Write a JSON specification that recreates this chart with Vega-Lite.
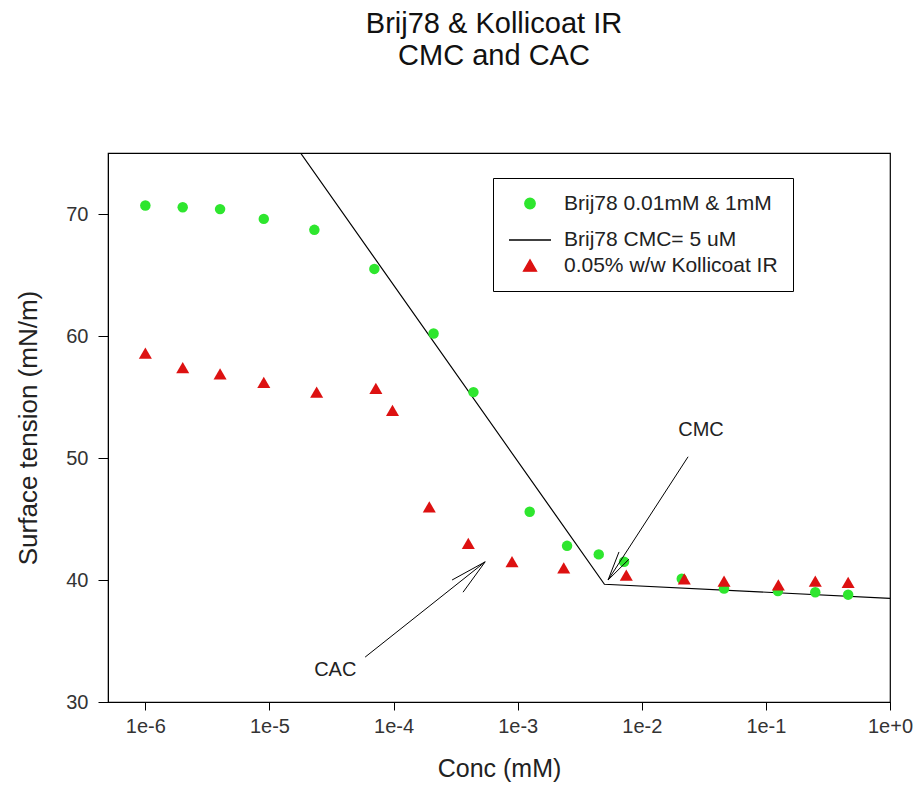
{
  "$schema": "https://vega.github.io/schema/vega-lite/v6.json",
  "width": 782,
  "height": 549,
  "autosize": {"type": "none"},
  "padding": {"left": 108, "top": 153, "right": 27, "bottom": 94},
  "background": "white",
  "config": {
    "font": "Liberation Sans",
    "view": {"stroke": "#000", "strokeWidth": 1.2}
  },
  "title": {
    "text": ["Brij78 & Kollicoat IR", "CMC and CAC"],
    "fontSize": 29,
    "fontWeight": "normal",
    "lineHeight": 32,
    "offset": 82,
    "anchor": "middle",
    "dx": -5,
    "color": "#111"
  },
  "datasets": {
    "points": [
      {"conc": 1e-6, "tension": 70.7, "series": "Brij78 0.01mM & 1mM"},
      {"conc": 2e-6, "tension": 70.55, "series": "Brij78 0.01mM & 1mM"},
      {"conc": 4e-6, "tension": 70.4, "series": "Brij78 0.01mM & 1mM"},
      {"conc": 9e-6, "tension": 69.6, "series": "Brij78 0.01mM & 1mM"},
      {"conc": 2.3e-5, "tension": 68.7, "series": "Brij78 0.01mM & 1mM"},
      {"conc": 7e-5, "tension": 65.5, "series": "Brij78 0.01mM & 1mM"},
      {"conc": 2.1e-4, "tension": 60.2, "series": "Brij78 0.01mM & 1mM"},
      {"conc": 4.4e-4, "tension": 55.4, "series": "Brij78 0.01mM & 1mM"},
      {"conc": 1.25e-3, "tension": 45.6, "series": "Brij78 0.01mM & 1mM"},
      {"conc": 2.5e-3, "tension": 42.8, "series": "Brij78 0.01mM & 1mM"},
      {"conc": 4.5e-3, "tension": 42.1, "series": "Brij78 0.01mM & 1mM"},
      {"conc": 7.2e-3, "tension": 41.5, "series": "Brij78 0.01mM & 1mM"},
      {"conc": 2.1e-2, "tension": 40.1, "series": "Brij78 0.01mM & 1mM"},
      {"conc": 4.6e-2, "tension": 39.3, "series": "Brij78 0.01mM & 1mM"},
      {"conc": 0.125, "tension": 39.1, "series": "Brij78 0.01mM & 1mM"},
      {"conc": 0.25, "tension": 39.0, "series": "Brij78 0.01mM & 1mM"},
      {"conc": 0.46, "tension": 38.8, "series": "Brij78 0.01mM & 1mM"},
      {"conc": 1e-6, "tension": 58.6, "series": "0.05% w/w Kollicoat IR"},
      {"conc": 2e-6, "tension": 57.4, "series": "0.05% w/w Kollicoat IR"},
      {"conc": 4e-6, "tension": 56.9, "series": "0.05% w/w Kollicoat IR"},
      {"conc": 9e-6, "tension": 56.2, "series": "0.05% w/w Kollicoat IR"},
      {"conc": 2.4e-5, "tension": 55.4, "series": "0.05% w/w Kollicoat IR"},
      {"conc": 7.2e-5, "tension": 55.7, "series": "0.05% w/w Kollicoat IR"},
      {"conc": 9.8e-5, "tension": 53.9, "series": "0.05% w/w Kollicoat IR"},
      {"conc": 1.94e-4, "tension": 46.0, "series": "0.05% w/w Kollicoat IR"},
      {"conc": 4e-4, "tension": 43.0, "series": "0.05% w/w Kollicoat IR"},
      {"conc": 9e-4, "tension": 41.5, "series": "0.05% w/w Kollicoat IR"},
      {"conc": 2.35e-3, "tension": 41.0, "series": "0.05% w/w Kollicoat IR"},
      {"conc": 7.5e-3, "tension": 40.4, "series": "0.05% w/w Kollicoat IR"},
      {"conc": 2.2e-2, "tension": 40.1, "series": "0.05% w/w Kollicoat IR"},
      {"conc": 4.6e-2, "tension": 39.9, "series": "0.05% w/w Kollicoat IR"},
      {"conc": 0.126, "tension": 39.6, "series": "0.05% w/w Kollicoat IR"},
      {"conc": 0.25, "tension": 39.9, "series": "0.05% w/w Kollicoat IR"},
      {"conc": 0.46, "tension": 39.8, "series": "0.05% w/w Kollicoat IR"}
    ],
    "fit": [
      {"conc": 1.78e-5, "tension": 75, "series": "Brij78 CMC= 5 uM"},
      {"conc": 5e-3, "tension": 39.65, "series": "Brij78 CMC= 5 uM"},
      {"conc": 1, "tension": 38.5, "series": "Brij78 CMC= 5 uM"}
    ],
    "arrows": [
      {"x": 0.0236, "y": 50.1, "x2": 0.00535, "y2": 40.0},
      {"x": 0.00788, "y": 41.7, "x2": 0.00535, "y2": 40.0},
      {"x": 0.00655, "y": 42.3, "x2": 0.00535, "y2": 40.0},
      {"x": 5.9e-5, "y": 33.68, "x2": 5.47e-4, "y2": 41.49},
      {"x": 2.96e-4, "y": 40.0, "x2": 5.47e-4, "y2": 41.49},
      {"x": 3.63e-4, "y": 39.0, "x2": 5.47e-4, "y2": 41.49}
    ],
    "labels": [
      {"x": 0.030, "y": 52.3, "text": "CMC"},
      {"x": 3.39e-5, "y": 32.6, "text": "CAC"}
    ]
  },
  "encoding": {
    "x": {
      "field": "conc",
      "type": "quantitative",
      "scale": {"type": "log", "domain": [5e-7, 1], "nice": false},
      "axis": {
        "title": "Conc (mM)",
        "values": [1e-6, 1e-5, 1e-4, 1e-3, 1e-2, 1e-1, 1],
        "labelExpr": "'1e' + (datum.value >= 1 ? '+' : '') + round(log(datum.value)/LN10)",
        "grid": false,
        "tickSize": 8,
        "tickColor": "#000",
        "domainColor": "#000",
        "labelFontSize": 20,
        "labelColor": "#333",
        "labelPadding": 6,
        "labelFlush": false,
        "labelOverlap": false,
        "titleFontSize": 25,
        "titleFontWeight": "normal",
        "titleColor": "#222",
        "titlePadding": 20
      }
    },
    "y": {
      "field": "tension",
      "type": "quantitative",
      "scale": {"domain": [30, 75], "nice": false, "zero": false},
      "axis": {
        "title": "Surface tension (mN/m)",
        "values": [30, 40, 50, 60, 70],
        "grid": false,
        "tickSize": 10,
        "tickColor": "#000",
        "domainColor": "#000",
        "labelFontSize": 20,
        "labelColor": "#333",
        "labelPadding": 10,
        "labelFlush": false,
        "titleFontSize": 26,
        "titleFontWeight": "normal",
        "titleColor": "#222",
        "titlePadding": 24
      }
    }
  },
  "layer": [
    {
      "data": {"name": "fit"},
      "mark": {"type": "line", "strokeWidth": 1.2, "clip": true},
      "encoding": {
        "color": {
          "field": "series",
          "type": "nominal",
          "scale": {
            "domain": ["Brij78 0.01mM & 1mM", "Brij78 CMC= 5 uM", "0.05% w/w Kollicoat IR"],
            "range": ["#2ee62e", "#000000", "#dd1111"]
          }
        }
      }
    },
    {
      "data": {"name": "points"},
      "mark": {"type": "point", "filled": true, "opacity": 1},
      "encoding": {
        "color": {
          "field": "series",
          "type": "nominal",
          "legend": {
            "title": null,
            "orient": "none",
            "legendX": 385,
            "legendY": 25,
            "strokeColor": "#000",
            "fillColor": "#fff",
            "padding": 15,
            "labelFontSize": 21,
            "labelColor": "#222",
            "labelLimit": 400,
            "labelOffset": 12,
            "rowPadding": 4,
            "symbolOpacity": 1,
            "symbolStrokeWidth": 1.3,
            "symbolStrokeColor": "#000"
          }
        },
        "shape": {
          "field": "series",
          "type": "nominal",
          "scale": {
            "domain": ["Brij78 0.01mM & 1mM", "Brij78 CMC= 5 uM", "0.05% w/w Kollicoat IR"],
            "range": ["circle", "stroke", "triangle-up"]
          }
        },
        "size": {
          "field": "series",
          "type": "nominal",
          "scale": {
            "type": "ordinal",
            "domain": ["Brij78 0.01mM & 1mM", "Brij78 CMC= 5 uM", "0.05% w/w Kollicoat IR"],
            "range": [110, 1764, 170]
          },
          "legend": null
        }
      }
    },
    {
      "data": {"name": "arrows"},
      "mark": {"type": "rule", "color": "#000", "strokeWidth": 1},
      "encoding": {
        "x": {"field": "x", "type": "quantitative"},
        "y": {"field": "y", "type": "quantitative"},
        "x2": {"field": "x2"},
        "y2": {"field": "y2"}
      }
    },
    {
      "data": {"name": "labels"},
      "mark": {"type": "text", "fontSize": 20, "color": "#222"},
      "encoding": {
        "x": {"field": "x", "type": "quantitative"},
        "y": {"field": "y", "type": "quantitative"},
        "text": {"field": "text"}
      }
    }
  ]
}
